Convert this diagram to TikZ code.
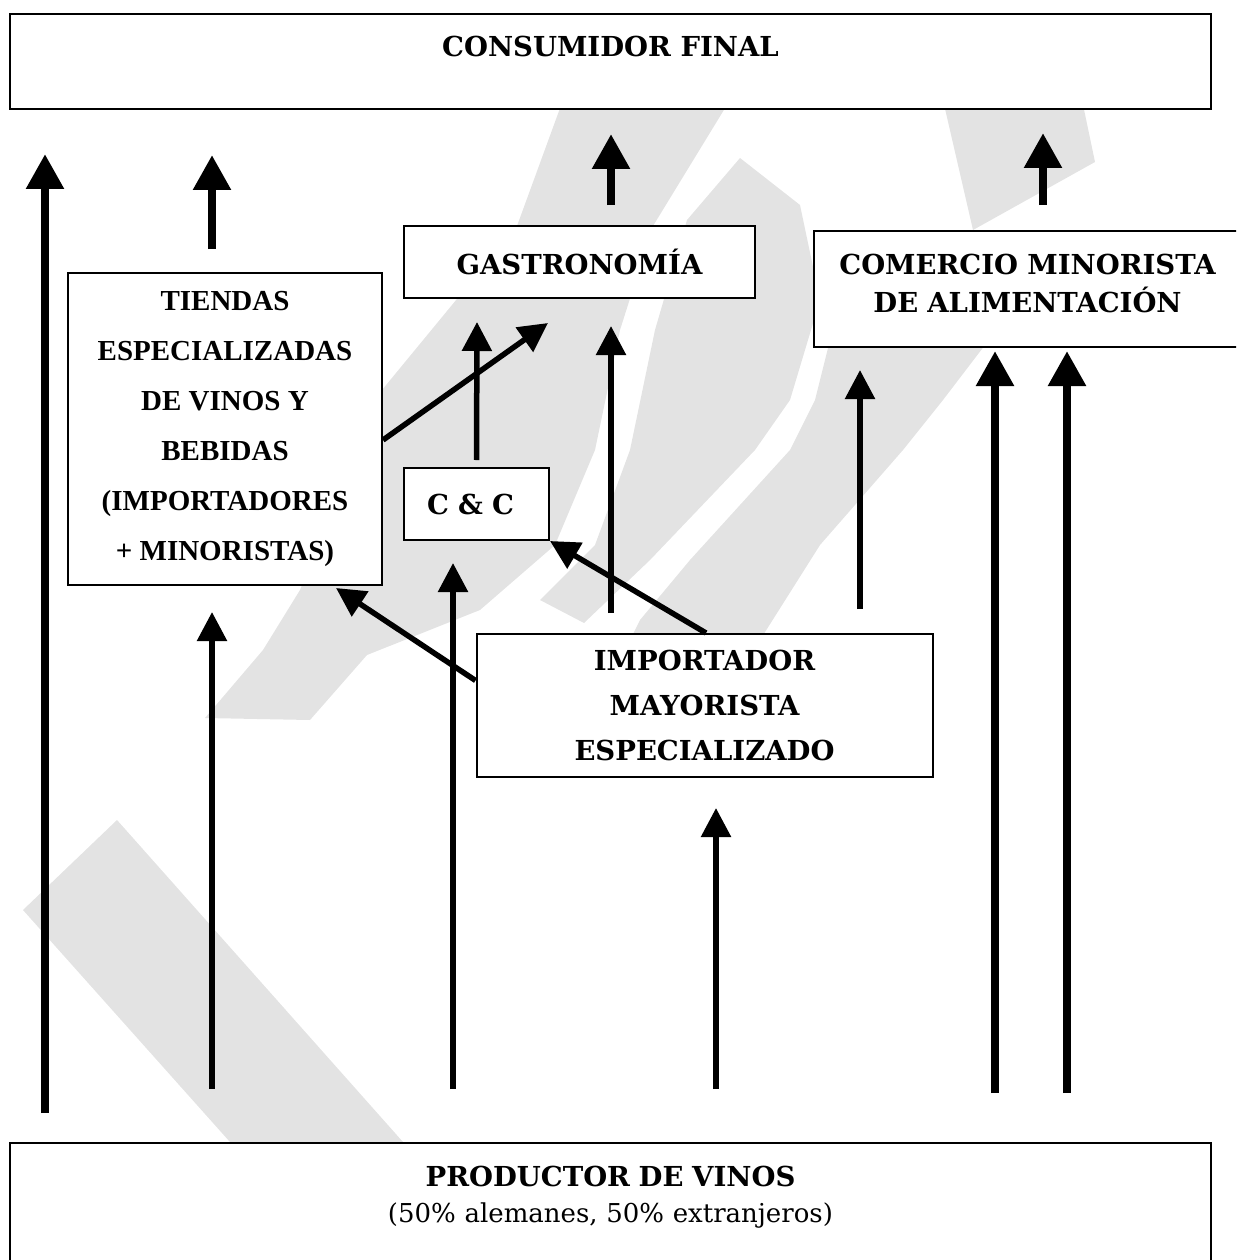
\documentclass[tikz,border=0pt]{standalone}
\usepackage{fontspec}
\setmainfont{DejaVu Serif}
\newfontfamily\timesfont{Liberation Serif}
\usepackage{tikz}
\usetikzlibrary{arrows.meta, positioning}
\definecolor{marca}{RGB}{227,227,227}
\tikzstyle{caja} = [rectangle, draw, fill=white, line width=2pt, inner sep=0pt, align=center, font=\bfseries\fontsize{27.5}{38}\selectfont]
\tikzstyle{flechagruesa} = [line width=8.5pt, -{Triangle[width=36pt,length=35pt]}]
\tikzstyle{flechafina} = [line width=5.5pt, -{Triangle[width=29pt,length=29pt]}]

\begin{document}
\begin{tikzpicture}[x=1pt, y=-1pt]
\clip (0,0) rectangle (1236,1260);

% Marca de agua
\fill[marca] (23,910) -- (117,820) -- (403,1142) -- (230,1142) -- cycle;
\fill[marca] (205,718) -- (263,650) -- (300,590) -- (382,390) -- (517,226) -- (563,100) -- (730,100) -- (653,226) -- (620,330) -- (595,450) -- (555,545) -- (480,610) -- (367,655) -- (310,720) -- cycle;
\fill[marca] (740,158) -- (800,205) -- (820,300) -- (790,400) -- (755,450) -- (650,560) -- (584,623) -- (540,600) -- (595,545) -- (630,450) -- (655,330) -- (687,220) -- cycle;
\fill[marca] (943,100) -- (1082,100) -- (1095,162) -- (973,230) -- cycle;
\fill[marca] (840,300) -- (1000,300) -- (985,345) -- (943,400) -- (903,450) -- (820,545) -- (760,640) -- (630,640) -- (640,620) -- (690,560) -- (790,450) -- (815,400) -- cycle;

% Cajas
\node[caja, minimum width=1201pt, text height=43pt, text depth=52pt, anchor=north] (consumidor) at (610.5,13) {CONSUMIDOR FINAL};

\node[caja, minimum width=351pt, minimum height=72pt] (gastro) at (579.5,262) {GASTRONOMÍA};

\node[caja, text width=427pt, text height=43pt, text depth=73pt, anchor=north west] (comercio) at (813,230) {COMERCIO MINORISTA\\DE ALIMENTACIÓN};

\node[caja, minimum width=314pt, minimum height=312pt, font=\timesfont\bfseries\fontsize{29}{50}\selectfont] (tiendas) at (225,429) {TIENDAS\\ESPECIALIZADAS\\DE VINOS Y\\BEBIDAS\\(IMPORTADORES\\+ MINORISTAS)};

\node[caja, minimum width=145pt, minimum height=72pt, text width=99pt, inner xsep=23pt, align=left, below=168pt of gastro.south west, anchor=north west] (cyc) {C \& C};

\node[caja, minimum width=456pt, minimum height=143pt, font=\bfseries\fontsize{27.5}{45}\selectfont] (importador) at (704.5,705.5) {IMPORTADOR\\MAYORISTA\\ESPECIALIZADO};

\node[caja, text width=1201pt, text height=43pt, text depth=90pt, anchor=north, font=\fontsize{26}{36}\selectfont] (productor) at (610.5,1142) {\textbf{\fontsize{27.5}{36}\selectfont PRODUCTOR DE VINOS}\\(50\% alemanes, 50\% extranjeros)};

% Extremos libres de las flechas
\coordinate (a1) at (45,1113);  \coordinate (b1) at (45,154);
\coordinate (a2) at (212,249);  \coordinate (b2) at (212,155);
\coordinate (a3) at (611,205);  \coordinate (b3) at (611,134);
\coordinate (a4) at (1043,205); \coordinate (b4) at (1043,133);
\coordinate (a5) at (995,1093); \coordinate (b5) at (995,351);
\coordinate (a6) at (1067,1093); \coordinate (b6) at (1067,351);
\coordinate (a7) at (212,1089); \coordinate (b7) at (212,612);
\coordinate (a8) at (453,1089); \coordinate (b8) at (453,563);
\coordinate (a9) at (716,1089); \coordinate (b9) at (716,808);
\coordinate (a10) at (611,613); \coordinate (b10) at (611,326);
\coordinate (a11) at (860,609); \coordinate (b11) at (860,370);
\coordinate (b12) at (477,322);

% Flechas gruesas
\draw[flechagruesa] (a1) -- (b1);
\draw[flechagruesa] (a2) -- (b2);
\draw[flechagruesa] (a3) -- (b3);
\draw[flechagruesa] (a4) -- (b4);
\draw[flechagruesa] (a5) -- (b5);
\draw[flechagruesa] (a6) -- (b6);

% Flechas finas
\draw[flechafina] (a7) -- (b7);
\draw[flechafina] (a8) -- (b8);
\draw[flechafina] (a9) -- (b9);
\draw[flechafina] (a10) -- (b10);
\draw[flechafina] (a11) -- (b11);
\draw[flechafina] ([yshift=7pt]cyc.north) -- (b12);
\draw[flechafina] ([yshift=-11pt]tiendas.east) -- ([xshift=-31.5pt,yshift=-24pt]gastro.south);
\draw[flechafina] ([xshift=1.5pt]importador.north) -- (cyc.south east);
\draw[flechafina] ([yshift=25pt]importador.west) -- ([xshift=111pt,yshift=-2pt]tiendas.south);

\end{tikzpicture}
\end{document}
